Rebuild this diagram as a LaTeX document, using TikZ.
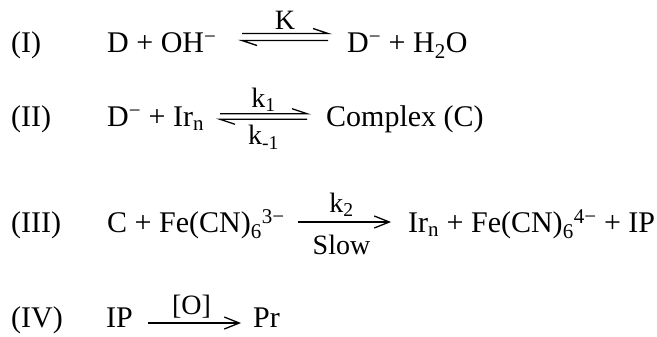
\documentclass[tikz,border=0pt]{standalone}
\usepackage{fontspec}
\setmainfont{Liberation Serif}
\usetikzlibrary{arrows.meta,calc}
\tikzset{
  x=1pt, y=-1pt,
  txt/.style={anchor=base west, inner sep=0pt, font=\fontsize{30}{36}\selectfont},
  lbl/.style={anchor=base, inner sep=0pt, font=\fontsize{28}{33}\selectfont},
  rline/.style={line width=1.3pt},
  fwd/.style={rline, -{Straight Barb[length=15pt,width=12pt,line width=1.3pt]}}
}
\begin{document}
\begin{tikzpicture}
\useasboundingbox (0,0) rectangle (657,337);
% Row I
\node[txt] (l1) at (11,53) {(I)};
\node[txt] (r1a) at (107,53) {D + OH\textsuperscript{−}};
\coordinate (a1s) at (242,37);
\coordinate (a1e) at (328,37);
\node[lbl] (k) at ($(a1s)!0.5!(a1e)+(0,-7)$) {K};
\node[txt] (r1b) at (347,53) {D\textsuperscript{−} + H\textsubscript{2}O};
\draw[rline] ($(a1s)+(0,-3.5)$) -- ($(a1e)+(0,-3.5)$) -- +(-15,-5);
\draw[rline] ($(a1e)+(0,3.5)$) -- ($(a1s)+(0,3.5)$) -- +(15,5);
% Row II
\node[txt] (l2) at (11,127) {(II)};
\node[txt] (r2a) at (107,127) {D\textsuperscript{−} + Ir\textsubscript{n}};
\coordinate (a2s) at (220,116.5);
\coordinate (a2e) at (307,116.5);
\node[lbl] (k1) at ($(a2s)!0.5!(a2e)+(0,-9.5)$) {k\textsubscript{1}};
\node[lbl] (km1) at ($(a2s)!0.5!(a2e)+(0,28.5)$) {k\textsubscript{-1}};
\node[txt] (r2b) at (326,127) {Complex (C)};
\draw[rline] ($(a2s)+(0,-2.8)$) -- ($(a2e)+(0,-2.8)$) -- +(-15,-5);
\draw[rline] ($(a2e)+(0,2.8)$) -- ($(a2s)+(0,2.8)$) -- +(15,5);
% Row III
\node[txt] (l3) at (11,233) {(III)};
\node[txt] (r3a) at (107,233) {C + Fe(CN)\textsubscript{6}\textsuperscript{3−}};
\coordinate (a3s) at (298,222);
\coordinate (a3e) at (391,222);
\node[lbl] (k2) at ($(a3s)!0.5!(a3e)+(-3,-9.5)$) {k\textsubscript{2}};
\node[lbl] (slow) at ($(a3s)!0.5!(a3e)+(-3,32)$) {Slow};
\draw[fwd] (a3s) -- (a3e);
\node[txt] (r3b) at (408,233) {Ir\textsubscript{n} + Fe(CN)\textsubscript{6}\textsuperscript{4−} + IP};
% Row IV
\node[txt] (l4) at (11,327) {(IV)};
\node[txt] (r4a) at (106,327) {IP};
\coordinate (a4s) at (148,323);
\coordinate (a4e) at (241,323);
\node[lbl] (ox) at ($(a4s)!0.5!(a4e)+(-3,-9)$) {[O]};
\draw[fwd] (a4s) -- (a4e);
\node[txt] (r4b) at (253,327) {Pr};
\end{tikzpicture}
\end{document}
